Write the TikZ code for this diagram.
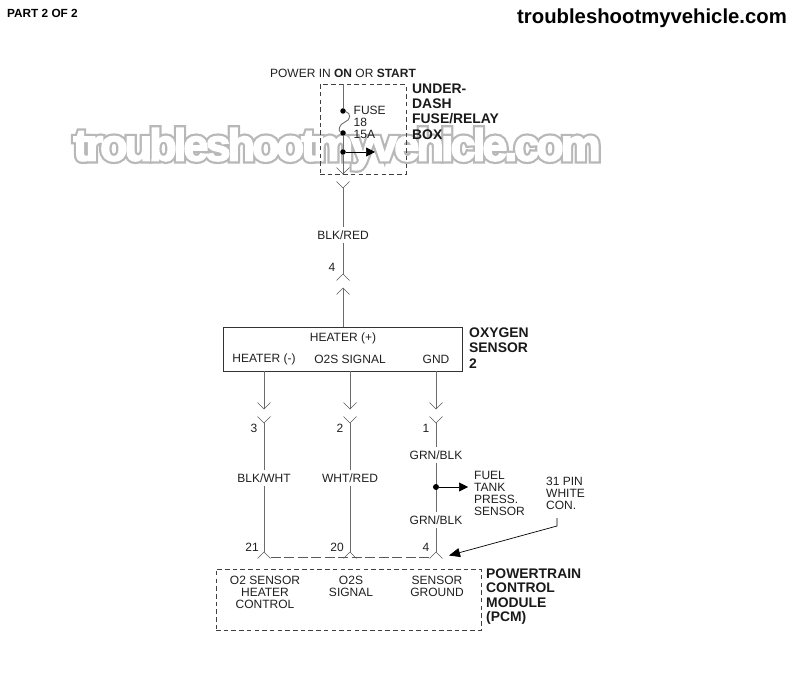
\documentclass[tikz,border=0pt]{standalone}
\usepackage{fontspec}
\setmainfont{Liberation Sans}
\usetikzlibrary{arrows.meta,calc}
\definecolor{wiregray}{gray}{0.42}
\definecolor{wm}{gray}{0.72}
\tikzset{
  lab/.style={font=\fontsize{12}{12}\selectfont,inner sep=0pt,text=black!88,align=center},
  lableft/.style={lab,align=left,anchor=west},
  wirelab/.style={lab,inner xsep=1pt,inner ysep=3pt},
  title/.style={font=\fontsize{13.9}{15.3}\selectfont\bfseries,inner sep=0pt,align=left,anchor=north west,text=black!90},
  wire/.style={draw=wiregray,line width=0.9pt},
  dashbox/.style={draw=black!75,line width=0.7pt,dash pattern=on 4.5pt off 3.2pt},
  dotn/.style={circle,fill=black,inner sep=0pt,minimum size=5.5pt},
  tip/.style={-{Triangle[length=9pt,width=9pt]},draw=black,line width=0.7pt}
}
\newfontfamily\wmgray[LetterSpace=-6,FakeBold=14]{Liberation Sans Bold}
\newfontfamily\wmwhite[LetterSpace=-6,FakeBold=4]{Liberation Sans Bold}
\newcommand{\chevdown}[2]{\draw[draw=black!65,line width=0.6pt] (#1-6.5,#2-6.5) -- (#1,#2) -- (#1+6.5,#2-6.5);}
\newcommand{\chevup}[2]{\draw[draw=black!65,line width=0.6pt] (#1-6.5,#2+6.5) -- (#1,#2) -- (#1+6.5,#2+6.5);}
\begin{document}
\begin{tikzpicture}[x=1pt,y=-1pt]
\useasboundingbox (0,0) rectangle (800,700);
% watermark
\node[inner sep=0pt,text=wm] (wmarkb) at (337,149) {\fontsize{44.5}{46}\selectfont\wmgray troubleshootmyvehicle.com};
\node[inner sep=0pt,text=white] (wmark) at (337,149) {\fontsize{44.5}{46}\selectfont\wmwhite troubleshootmyvehicle.com};
% headings
\node[font=\fontsize{11.8}{12}\selectfont\bfseries,inner sep=0pt,anchor=west] (part) at (7,13) {PART 2 OF 2};
\node[font=\fontsize{20.3}{22}\selectfont\bfseries,inner sep=0pt,anchor=east] (site) at (787,18) {troubleshootmyvehicle.com};
% top box
\node[lab] (power) at (343,73.5) {POWER IN \textbf{ON} OR \textbf{START}};
\node[dashbox,minimum width=86pt,minimum height=90pt,inner sep=0pt] (fusebox) at (363,129.5) {};
\node[title] (fusetitle) at (412,83.5) {UNDER-\\DASH\\FUSE/RELAY\\BOX};
\node[dotn] (f1) at (343,111) {};
\node[dotn] (f2) at (343,133) {};
\node[dotn] (j1) at (343,152) {};
\node[lableft,align=left,font=\fontsize{12}{12}\selectfont] (fuselab) at (353.5,122.7) {FUSE\\18\\15A};
\coordinate (ctop) at (343,84);
\coordinate (c1) at (343,174);
\coordinate (c1b) at (343,188);
\coordinate (jend) at (375,152);
\draw[wire] (ctop) -- (f1);
\draw[wire] (f1) .. controls (351,113) and (351,120) .. (345,122) .. controls (339,124) and (338,131) .. (f2);
\draw[wire] (f2) -- (j1) -- (c1);
\draw[tip] (j1) -- (jend);
\chevdown{343}{174}
\chevdown{343}{188}
\node[wirelab] (blkred) at (343,235) {BLK/RED};
\node[lab] (n4a) at (332,267) {4};
\coordinate (c2) at (343,274);
\coordinate (c3) at (343,288);
\draw[wire] (c1b) -- (blkred);
\draw[wire] (blkred) -- (c2);
\chevup{343}{274}
\chevup{343}{288}
% sensor
\node[draw=black!80,line width=0.8pt,minimum width=239pt,minimum height=44pt,inner sep=0pt] (sensor) at (342.5,349) {};
\draw[wire] (c3) -- (sensor.north -| c3);
\node[lab] at (343,338) (hplus) {HEATER (+)};
\node[lab] at (264,359) (hminus) {HEATER (-)};
\node[lab] at (350,359) (osig) {O2S SIGNAL};
\node[lab] at (436,359) (gnd) {GND};
\node[title] (senstitle) at (469,327.5) {OXYGEN\\SENSOR\\2};
% three wires
\node[wirelab] (l1) at (264,478) {BLK/WHT};
\node[wirelab] (l2) at (350,478) {WHT/RED};
\node[wirelab] (l3) at (436,455) {GRN/BLK};
\node[wirelab] (l4) at (436,520) {GRN/BLK};
\foreach \nm/\x/\num/\lx in {a/264/3/254,b/350/2/340,c/436/1/426}{
  \coordinate (\nm s) at (\x,371);
  \coordinate (\nm d) at (\x,409);
  \coordinate (\nm y) at (\x,423);
  \coordinate (\nm e) at (\x,552);
  \draw[wire] (\nm s) -- (\nm d);
  \chevdown{\x}{409}
  \chevdown{\x}{423}
  \node[lab] (\nm n) at (\lx,428) {\num};
}
\draw[wire] (ay) -- (l1);
\draw[wire] (l1) -- (ae);
\draw[wire] (by) -- (l2);
\draw[wire] (l2) -- (be);
\draw[wire] (cy) -- (l3);
\draw[wire] (l3) -- (l4);
\draw[wire] (l4) -- (ce);
\node[dotn,minimum size=6pt] (j2) at (436,487) {};
\coordinate (j2end) at (468,487);
\draw[tip] (j2) -- (j2end);
\node[lableft,align=left,font=\fontsize{12}{12}\selectfont] (tank) at (474,493.3) {FUEL\\TANK\\PRESS.\\SENSOR};
\node[lab,align=left,font=\fontsize{12}{12}\selectfont] (pin) at (565.5,493) {31 PIN\\WHITE\\CON.};
\coordinate (pa) at (557,518);
\coordinate (pb) at (557,526);
\coordinate (pc) at (449,555.5);
\draw[draw=black,line width=0.7pt,-{Triangle[length=11pt,width=9pt]}] (pa) -- (pb) -- (pc);
% connector row
\chevup{264}{552}
\chevup{350}{552}
\chevup{436}{552}
\coordinate (dl) at (270.5,557.5);
\coordinate (dr) at (429.5,557.5);
\draw[draw=black!65,line width=0.7pt,dash pattern=on 10pt off 3.5pt] (dl) -- (dr);
\node[lab] (n21) at (252,547) {21};
\node[lab] (n20) at (337,547) {20};
\node[lab] (n4b) at (426,547) {4};
% PCM
\node[dashbox,minimum width=265pt,minimum height=61pt,inner sep=0pt] (pcm) at (348.5,599.5) {};
\node[lab,anchor=north,font=\fontsize{12}{12}\selectfont] (p1) at (265,575.5) {O2 SENSOR\\HEATER\\CONTROL};
\node[lab,anchor=north,font=\fontsize{12}{12}\selectfont] (p2) at (351,575.5) {O2S\\SIGNAL};
\node[lab,anchor=north,font=\fontsize{12}{12}\selectfont] (p3) at (437,575.5) {SENSOR\\GROUND};
\node[title,font=\fontsize{13.9}{14.3}\selectfont\bfseries] (pcmtitle) at (486,568.5) {POWERTRAIN\\CONTROL\\MODULE\\(PCM)};
\end{tikzpicture}
\end{document}
